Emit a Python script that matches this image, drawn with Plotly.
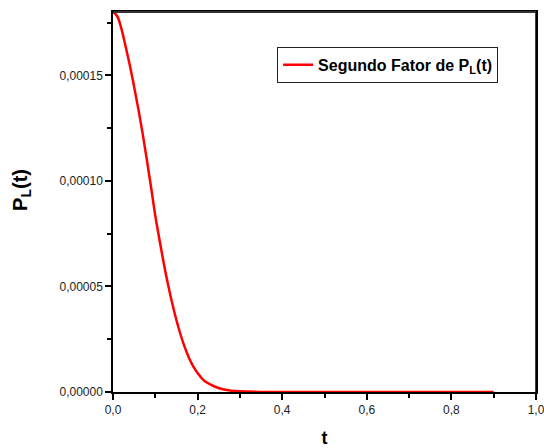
import plotly.graph_objects as go

t_vals = [0.0, 0.01, 0.02, 0.03, 0.04, 0.05, 0.06, 0.07, 0.08, 0.09, 0.10,
          0.11, 0.12, 0.13, 0.14, 0.15, 0.16, 0.17, 0.18, 0.19, 0.20,
          0.21, 0.22, 0.24, 0.26, 0.28, 0.30, 0.35, 0.40, 0.50, 0.60,
          0.70, 0.80, 0.90]
p_vals = [1.80e-4, 1.78e-4, 1.72e-4, 1.635e-4, 1.545e-4, 1.445e-4, 1.34e-4,
          1.225e-4, 1.10e-4, 0.97e-4, 0.835e-4, 0.72e-4, 0.61e-4, 0.51e-4,
          0.42e-4, 0.34e-4, 0.27e-4, 0.21e-4, 0.16e-4, 0.12e-4, 0.09e-4,
          0.065e-4, 0.047e-4, 0.026e-4, 0.013e-4, 0.006e-4, 0.003e-4,
          0.0005e-4, 0.0, 0.0, 0.0, 0.0, 0.0, 0.0]

series_name = "<b>Segundo Fator de P<sub>L</sub>(t)</b>"
y_title = "<b>P<sub>L</sub>(t)</b>"
x_ticks = [0.0, 0.2, 0.4, 0.6, 0.8, 1.0]
y_ticks = [0.0, 0.00005, 0.00010, 0.00015]

fig = go.Figure()
fig.add_trace(go.Scatter(
    x=t_vals, y=p_vals, mode="lines", name=series_name,
    line=dict(color="#ff0000", width=2.5, shape="spline", smoothing=1.0),
    cliponaxis=False,
))

axis_font = dict(family="Liberation Sans, Arial", size=12, color="#222")
fig.update_layout(
    width=544, height=448,
    margin=dict(l=113, r=8, t=12, b=56, autoexpand=False),
    paper_bgcolor="white", plot_bgcolor="white",
    separators=",.",
    showlegend=True,
    legend=dict(
        x=0.388, y=0.861, xanchor="left", yanchor="middle",
        bordercolor="#222", borderwidth=1, bgcolor="white",
        font=dict(family="Liberation Sans Narrow, Liberation Sans, Arial", size=16, color="black"),
        tracegroupgap=0, itemwidth=30,
    ),
    xaxis=dict(
        range=[0, 1.0], tickvals=x_ticks, tickformat=".1f", automargin=False,
        ticklabeloverflow="allow",
        ticks="outside", ticklen=6, tickwidth=1.5, tickcolor="black",
        minor=dict(dtick=0.1, ticks="outside", ticklen=4, tickwidth=1.5, tickcolor="black"),
        showline=True, linecolor="black", linewidth=1.5, mirror=True,
        showgrid=False, zeroline=False, tickfont=axis_font,
        title=dict(text="<b>t</b>", font=dict(family="Liberation Sans, Arial", size=18, color="black"), standoff=26),
    ),
    yaxis=dict(
        range=[0, 0.00018], tickvals=y_ticks, tickformat=".5f", automargin=False,
        ticklabeloverflow="allow",
        ticks="outside", ticklen=6, tickwidth=1.5, tickcolor="black",
        minor=dict(dtick=0.000025, ticks="outside", ticklen=4, tickwidth=1.5, tickcolor="black"),
        showline=True, linecolor="black", linewidth=1.5, mirror=True,
        showgrid=False, zeroline=False, tickfont=axis_font,
    ),
    annotations=[dict(
        text=y_title, xref="paper", yref="paper", x=-0.215, y=0.532,
        xanchor="center", yanchor="middle", textangle=-90, showarrow=False,
        font=dict(family="Liberation Sans, Arial", size=20, color="black"),
    )],
    shapes=[
        dict(type="line", xref="paper", yref="paper", x0=1, x1=1, y0=0, y1=1,
             line=dict(color="black", width=1.5)),
        dict(type="line", xref="paper", yref="paper", x0=0, x1=1, y0=1, y1=1,
             line=dict(color="#333", width=2)),
    ],
)

fig.write_html("out.html")
